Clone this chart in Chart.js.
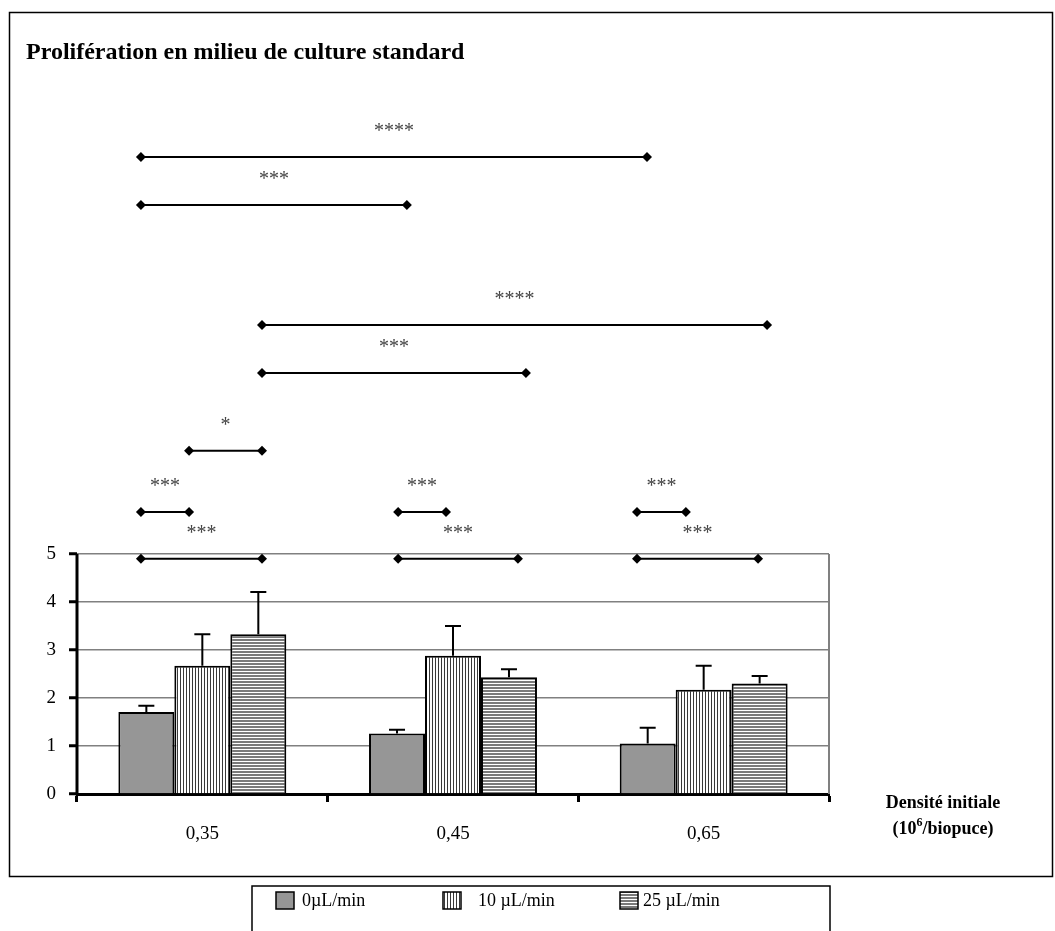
<!DOCTYPE html>
<html>
<head>
<meta charset="utf-8">
<script src="https://cdn.jsdelivr.net/npm/chart.js@4"></script>
<style>
  html, body { margin: 0; padding: 0; background: #fff; }
  #wrap { width: 1055px; height: 931px; }
</style>
</head>
<body>
<div id="wrap"><canvas id="chart"></canvas></div>
<script>
const densities = ['0,35', '0,45', '0,65'];
const seriesNames = ['0µL/min', '10 µL/min', '25 µL/min'];
const flow0 = [1.71, 1.26, 1.05];
const flow10 = [2.67, 2.88, 2.17];
const flow25 = [3.33, 2.43, 2.30];
const err0 = [0.13, 0.08, 0.33];
const err10 = [0.66, 0.62, 0.50];
const err25 = [0.88, 0.17, 0.16];
const yTicks = [0, 1, 2, 3, 4, 5];

// significance brackets: x in category units (0 = first group), level in y units
const bracketFrom  = [-0.245, -0.245, 0.238, 0.238, -0.053, -0.245, -0.245, 0.781, 0.781, 1.734, 1.734];
const bracketTo    = [1.774, 0.816, 2.253, 1.291, 0.238, -0.053, 0.238, 0.972, 1.259, 1.929, 2.217];
const bracketLevel = [13.27, 12.27, 9.77, 8.77, 7.15, 5.875, 4.9, 5.875, 4.9, 5.875, 4.9];
const bracketLabel = ['****', '***', '****', '***', '*', '***', '***', '***', '***', '***', '***'];

const FONT = 'Liberation Serif';
Chart.defaults.font.family = FONT;
Chart.defaults.color = '#000';

function stripes(vertical) {
  const c = document.createElement('canvas');
  c.width = vertical ? 3 : 1;
  c.height = vertical ? 1 : 3;
  const g = c.getContext('2d');
  g.fillStyle = '#fff';
  g.fillRect(0, 0, c.width, c.height);
  if (vertical) {
    g.fillStyle = '#3a3a3a';
    g.fillRect(0, 0, 1, 1);
  } else {
    g.fillStyle = '#7a7a7a';
    g.fillRect(0, 0, 1, 2);
  }
  return g.createPattern(c, 'repeat');
}

const fills = ['#969696', stripes(true), stripes(false)];
const values = [flow0, flow10, flow25];
const errors = [err0, err10, err25];

const bars = values.map((v, i) => ({
  label: seriesNames[i],
  data: v,
  backgroundColor: fills[i],
  borderColor: '#000',
  borderWidth: 2,
  categoryPercentage: 0.67,
  barPercentage: 1
}));

// brackets live on the same category axis; parsing off so fractional positions are kept
const brackets = bracketFrom.map((x0, k) => ({
  type: 'line',
  label: bracketLabel[k],
  parsing: false,
  data: [{ x: x0, y: bracketLevel[k] }, { x: bracketTo[k], y: bracketLevel[k] }],
  borderColor: '#000',
  borderWidth: 2,
  pointStyle: 'rectRot',
  pointRadius: 5,
  pointBackgroundColor: '#000',
  pointBorderWidth: 0,
  fill: false
}));

const decor = {
  id: 'decor',
  afterDatasetsDraw(chart) {
    const { ctx, chartArea: a, scales: { y } } = chart;
    ctx.save();

    // error bars (upper only)
    ctx.strokeStyle = '#000';
    ctx.lineWidth = 2;
    errors.forEach((errs, i) => {
      chart.getDatasetMeta(i).data.forEach((bar, j) => {
        const top = y.getPixelForValue(values[i][j] + errs[j]);
        ctx.beginPath();
        ctx.moveTo(bar.x, bar.y);
        ctx.lineTo(bar.x, top);
        ctx.moveTo(bar.x - 8, top);
        ctx.lineTo(bar.x + 8, top);
        ctx.stroke();
      });
    });

    // plot frame: y axis and right edge up to 5
    const y0 = y.getPixelForValue(0), y5 = y.getPixelForValue(5);
    ctx.strokeStyle = '#808080';
    ctx.lineWidth = 2;
    ctx.beginPath();
    ctx.moveTo(a.right, y5);
    ctx.lineTo(a.right, y0);
    ctx.stroke();
    ctx.strokeStyle = '#000';
    ctx.lineWidth = 3;
    ctx.beginPath();
    ctx.moveTo(a.left, y5);
    ctx.lineTo(a.left, y0 + 1.5);
    ctx.stroke();

    // asterisks over brackets
    ctx.fillStyle = '#444';
    ctx.font = '20px "' + FONT + '"';
    ctx.textAlign = 'center';
    ctx.textBaseline = 'middle';
    bracketLabel.forEach((t, k) => {
      const pts = chart.getDatasetMeta(3 + k).data;
      ctx.fillText(t, (pts[0].x + pts[1].x) / 2, pts[0].y - 25);
    });

    // x axis title, right of the axis
    ctx.fillStyle = '#000';
    ctx.font = 'bold 18px "' + FONT + '"';
    ctx.fillText('Densité initiale', 943, 803);
    const big = 'bold 18px "' + FONT + '"', small = 'bold 12px "' + FONT + '"';
    ctx.font = big;
    const w1 = ctx.measureText('(10').width, w3 = ctx.measureText('/biopuce)').width;
    ctx.font = small;
    const w2 = ctx.measureText('6').width;
    const x = 943 - (w1 + w2 + w3) / 2;
    ctx.textAlign = 'left';
    ctx.font = big;
    ctx.fillText('(10', x, 829);
    ctx.font = small;
    ctx.fillText('6', x + w1, 823);
    ctx.font = big;
    ctx.fillText('/biopuce)', x + w1 + w2, 829);

    // outer frame
    ctx.strokeStyle = '#000';
    ctx.lineWidth = 1.5;
    ctx.strokeRect(9.5, 12.5, 1043, 864);

    // legend box
    ctx.strokeRect(252, 886, 578, 60);
    const sx = [276, 443, 620], tx = [302, 478, 643];
    ctx.font = '18px "' + FONT + '"';
    seriesNames.forEach((name, i) => {
      ctx.fillStyle = fills[i];
      ctx.fillRect(sx[i], 892, 18, 17);
      ctx.lineWidth = 1.5;
      ctx.strokeStyle = '#000';
      ctx.strokeRect(sx[i], 892, 18, 17);
      ctx.fillStyle = '#000';
      ctx.fillText(name, tx[i], 901);
    });
    ctx.restore();
  }
};

new Chart(document.getElementById('chart'), {
  type: 'bar',
  data: { labels: densities, datasets: [...bars, ...brackets] },
  options: {
    responsive: true,
    maintainAspectRatio: false,
    animation: false,
    devicePixelRatio: 1,
    layout: { padding: { top: 12, left: 26, right: 226, bottom: 54 } },
    plugins: {
      legend: { display: false },
      tooltip: { enabled: false },
      title: {
        display: true,
        text: 'Prolifération en milieu de culture standard',
        align: 'start',
        color: '#000',
        font: { family: FONT, size: 24, weight: 'bold' },
        padding: { top: 26.6, bottom: 30.6 }
      }
    },
    scales: {
      x: {
        offset: true,
        grid: { offset: true, drawOnChartArea: false, drawTicks: true, tickLength: 8, tickColor: '#000', tickWidth: 3 },
        border: { color: '#000', width: 3 },
        ticks: { font: { size: 19 }, color: '#000', padding: 21 },
        afterFit: s => { s.height = 83; }
      },
      y: {
        min: 0,
        max: 14.5,
        afterBuildTicks: s => { s.ticks = yTicks.map(v => ({ value: v })); },
        grid: { color: '#808080', lineWidth: 1.5, tickLength: 8, tickColor: '#000', tickWidth: 3 },
        border: { display: false },
        ticks: { font: { size: 19 }, color: '#000', padding: 13 },
        afterFit: s => { s.width = 51; }
      }
    }
  },
  plugins: [decor]
});
</script>
</body>
</html>
